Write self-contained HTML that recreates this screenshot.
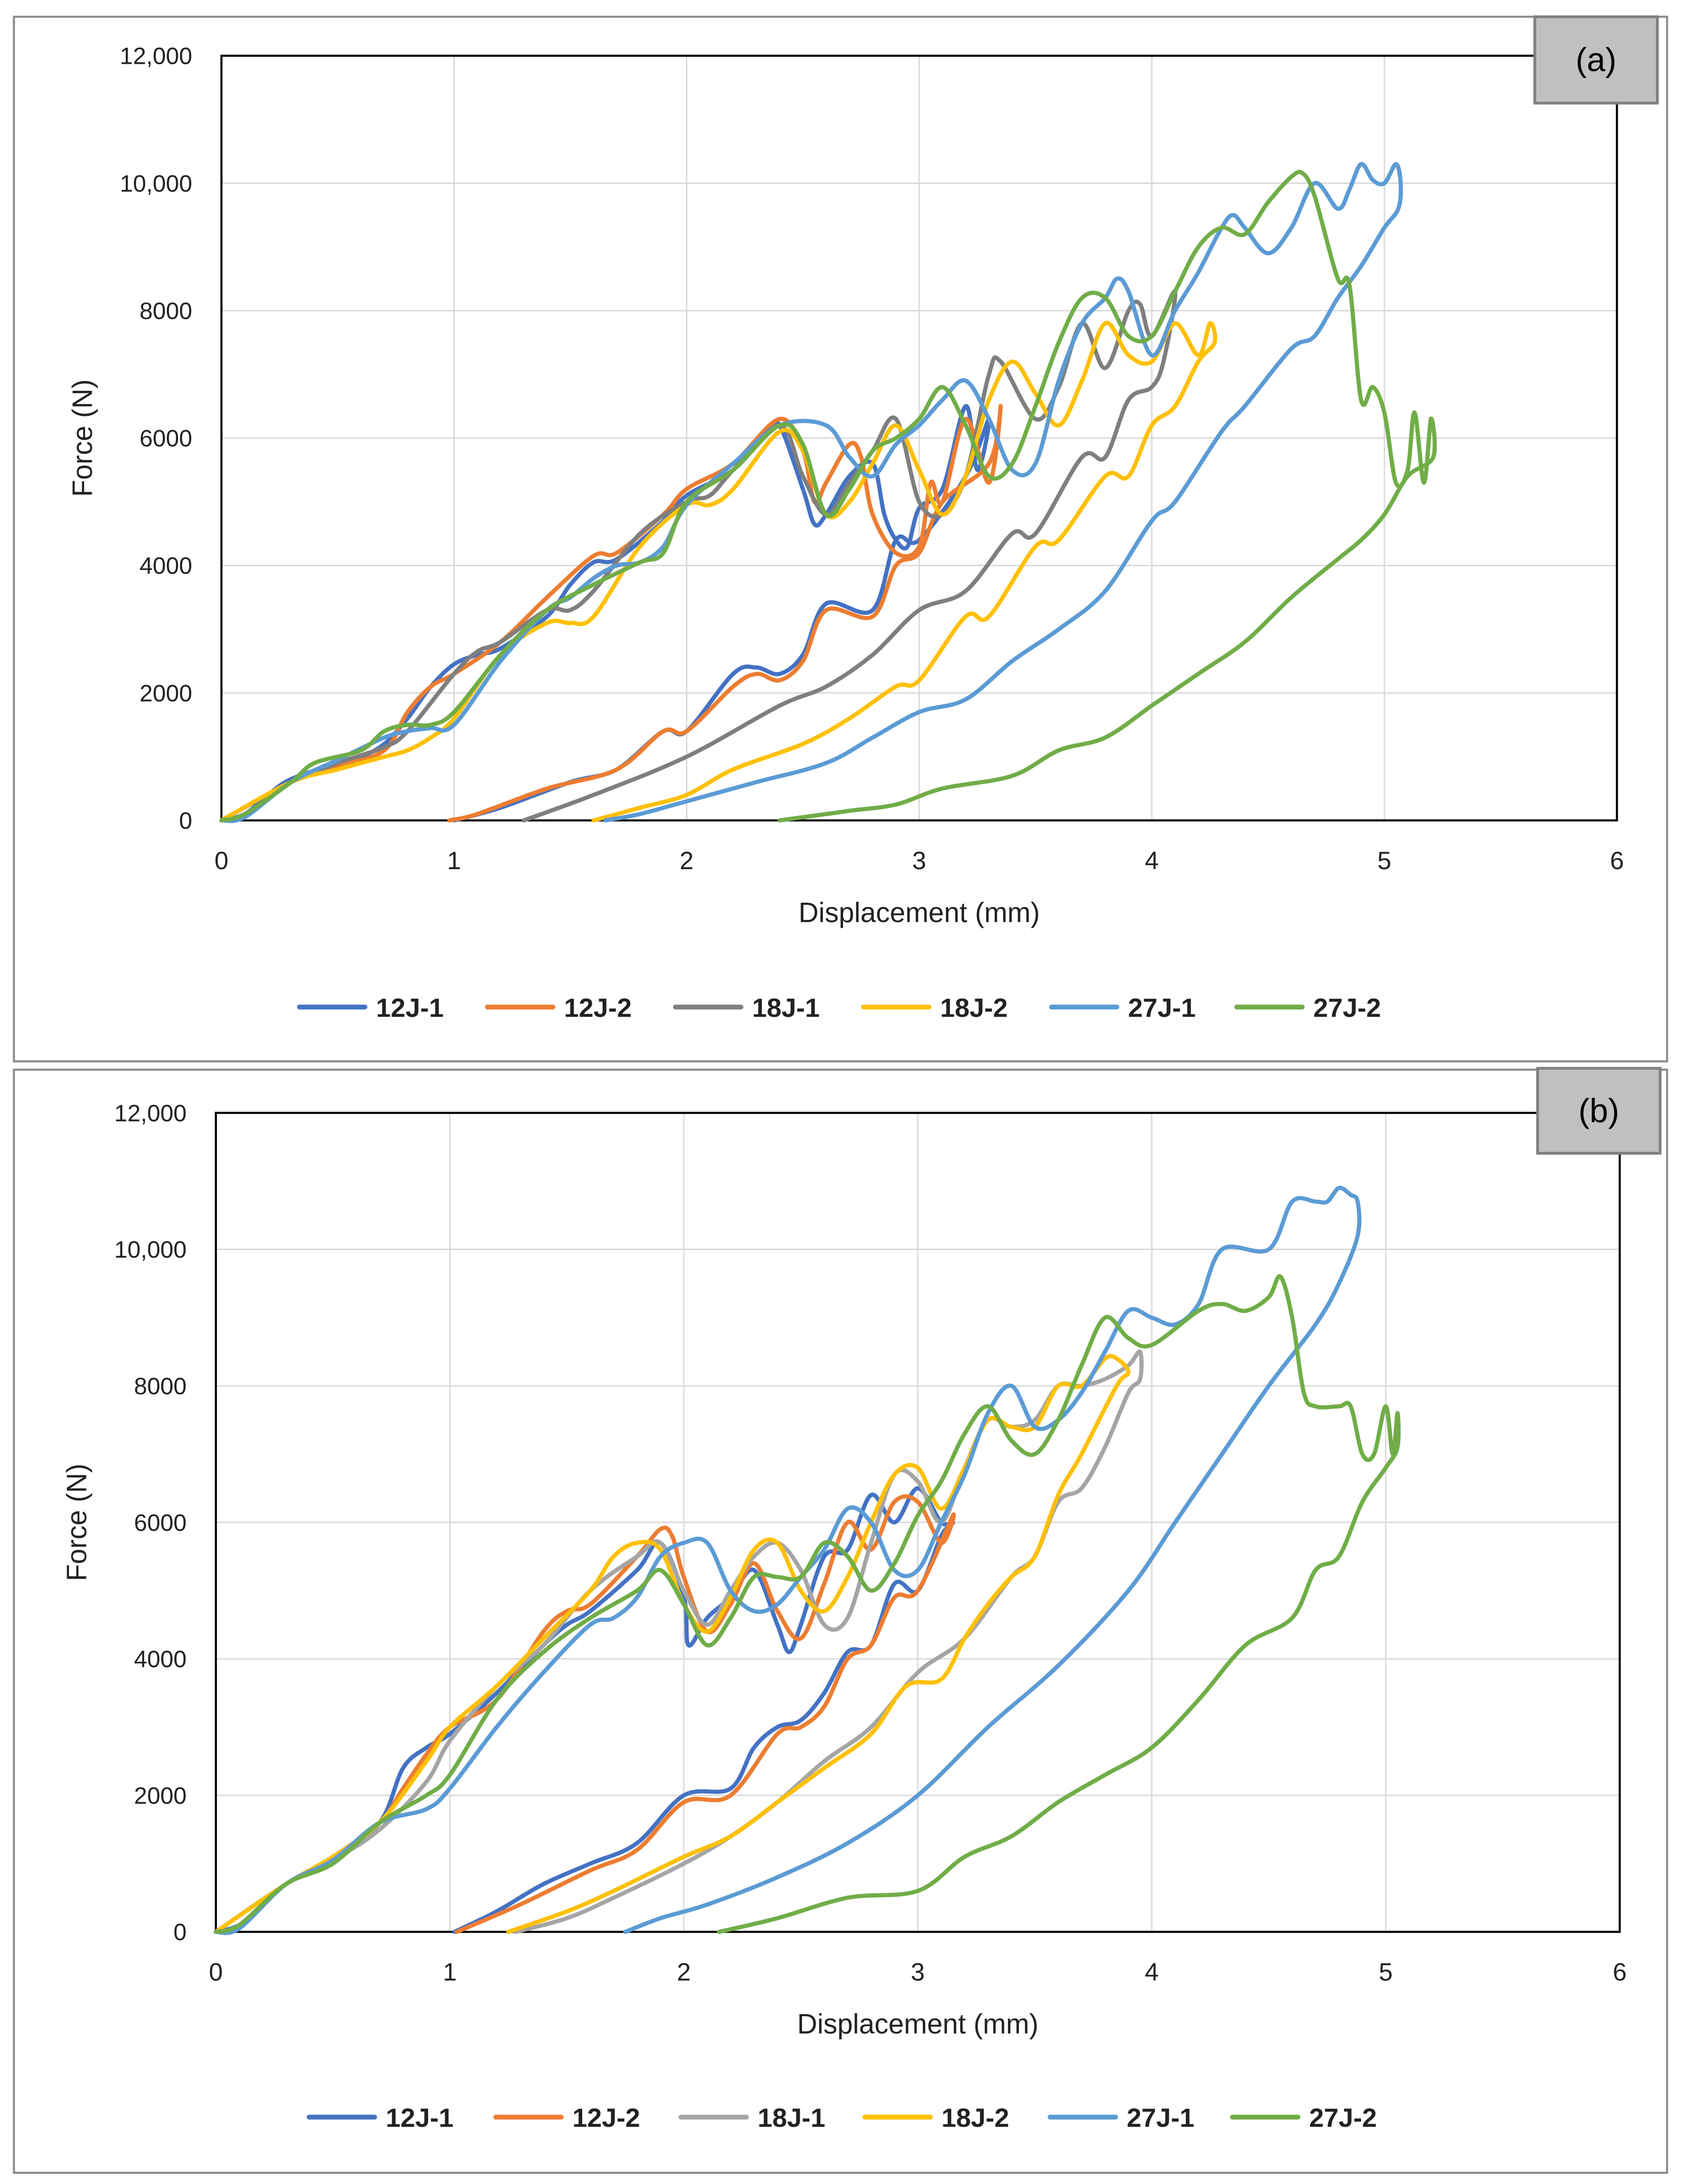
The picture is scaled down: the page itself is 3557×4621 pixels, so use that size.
<!DOCTYPE html>
<html><head><meta charset="utf-8">
<style>
html,body{margin:0;padding:0;background:#fff;}
svg{display:block;}
text{font-family:"Liberation Sans",sans-serif;}
</style></head>
<body>
<svg id="fig" width="3557" height="4621" viewBox="0 0 1207 1568" xmlns="http://www.w3.org/2000/svg">
<rect x="0" y="0" width="1207" height="1568" fill="#fff"/>
</svg>
<script>
// ---------- data (mm, N) ----------
const seriesNames = ["12J-1","12J-2","18J-1","18J-2","27J-1","27J-2"];
const yTicks = [0,2000,4000,6000,8000,10000,12000];
const yTickLabels = ["0","2000","4000","6000","8000","10,000","12,000"];
const xTicks = [0,1,2,3,4,5,6];

// Panel (a)
const a12J1x=[0,0.1,0.2,0.3,0.5,0.6,0.7,0.8,0.9,1.0,1.1,1.2,1.4,1.5,1.6,1.7,1.9,2.0,2.2,2.35,2.4,2.5,2.55,2.6,2.7,2.8,2.85,2.9,2.95,3.0,3.1,3.2,3.25,3.3,3.2,3.0,2.9,2.8,2.6,2.5,2.4,2.3,2.2,2.0,1.9,1.7,1.5,1.2,1.0];
const a12J1y=[0,100,400,650,900,1000,1200,1600,2100,2450,2600,2700,3200,3700,4050,4100,4700,5100,5500,6100,6200,5200,4650,4800,5400,5600,4800,4400,4300,4900,5200,6500,5500,6300,5400,4400,4400,3300,3400,2600,2300,2400,2300,1400,1400,800,600,200,0];
const a12J2x=[0,0.3,0.5,0.7,0.8,0.9,1.0,1.2,1.4,1.6,1.7,1.9,2.0,2.2,2.4,2.5,2.55,2.6,2.7,2.75,2.8,2.9,3.0,3.05,3.1,3.2,3.3,3.35,3.3,3.1,3.0,2.9,2.8,2.6,2.5,2.4,2.3,2.2,2.0,1.9,1.7,1.4,1.1,0.98];
const a12J2y=[0,600,850,1100,1700,2100,2300,2800,3500,4150,4200,4800,5200,5600,6300,5800,5000,5300,5900,5700,4800,4200,4300,5300,5000,6300,5300,6500,5600,5000,4200,4000,3200,3300,2500,2200,2300,2100,1400,1400,800,500,100,0];
const a18J1x=[0,0.3,0.5,0.7,0.8,1.0,1.1,1.2,1.4,1.5,1.6,1.8,2.0,2.1,2.2,2.4,2.5,2.6,2.7,2.8,2.9,3.0,3.1,3.2,3.3,3.35,3.5,3.6,3.7,3.8,3.9,3.95,4.0,4.1,4.05,4.0,3.9,3.8,3.7,3.5,3.4,3.2,3.0,2.8,2.6,2.4,2.0,1.6,1.3];
const a18J1y=[0,600,900,1150,1400,2300,2650,2800,3300,3300,3600,4500,5000,5100,5500,6200,5400,4800,5300,5800,6300,5000,4800,5400,7000,7200,6300,6800,7800,7100,8000,8100,7600,8300,7200,6800,6600,5700,5700,4500,4500,3600,3300,2600,2100,1800,1000,400,0];
const a18J2x=[0,0.3,0.5,0.7,0.8,0.9,1.0,1.2,1.4,1.5,1.6,1.8,2.0,2.1,2.2,2.4,2.5,2.6,2.7,2.8,2.9,3.0,3.1,3.2,3.3,3.4,3.5,3.6,3.7,3.8,3.9,4.0,4.1,4.2,4.25,4.27,4.2,4.1,4.0,3.9,3.8,3.6,3.5,3.3,3.2,3.0,2.9,2.7,2.5,2.2,2.0,1.8,1.6];
const a18J2y=[0,600,800,1000,1100,1300,1600,2600,3100,3100,3200,4300,4950,4950,5200,6100,5800,4800,5000,5600,6200,5500,4800,5400,6600,7200,6700,6200,6900,7800,7300,7200,7800,7300,7800,7500,7200,6500,6200,5400,5400,4400,4300,3200,3200,2200,2100,1600,1200,800,400,200,0];
const a27J1x=[0,0.1,0.3,0.5,0.7,0.8,0.9,1.0,1.2,1.4,1.5,1.6,1.7,1.8,1.9,2.0,2.2,2.4,2.6,2.7,2.8,2.9,3.0,3.1,3.2,3.3,3.4,3.5,3.6,3.7,3.8,3.85,3.9,4.0,4.1,4.2,4.3,4.35,4.4,4.5,4.6,4.7,4.8,4.85,4.9,4.95,5.0,5.05,5.07,5.06,5.0,4.9,4.8,4.7,4.6,4.4,4.3,4.1,4.0,3.8,3.6,3.4,3.2,3.0,2.8,2.6,2.3,2.0,1.8,1.65];
const a27J1y=[0,50,600,950,1300,1400,1450,1500,2500,3300,3500,3800,4000,4050,4300,4950,5600,6200,6200,5700,5400,5900,6200,6600,6900,6300,5500,5600,6900,7800,8200,8500,8300,7300,8000,8600,9300,9500,9300,8900,9300,10000,9600,9900,10300,10050,10000,10300,10000,9600,9300,8700,8200,7600,7400,6500,6100,5000,4700,3600,3000,2500,1900,1700,1300,900,600,300,100,0];
const a27J2x=[0,0.1,0.3,0.4,0.6,0.7,0.8,0.9,1.0,1.2,1.4,1.6,1.8,1.9,2.0,2.2,2.4,2.5,2.6,2.7,2.8,2.9,3.0,3.1,3.2,3.3,3.4,3.5,3.6,3.7,3.8,3.9,4.0,4.1,4.2,4.3,4.4,4.5,4.6,4.65,4.7,4.8,4.85,4.9,4.95,5.0,5.05,5.1,5.13,5.17,5.2,5.21,5.1,5.0,4.9,4.8,4.6,4.4,4.2,4.0,3.8,3.6,3.4,3.1,2.9,2.7,2.5,2.4];
const a27J2y=[0,100,600,900,1100,1400,1500,1500,1700,2600,3300,3700,4050,4200,5000,5500,6200,5900,4800,5200,5800,6000,6300,6800,6200,5400,5600,6500,7500,8200,8200,7600,7600,8300,9000,9300,9200,9700,10100,10150,9800,8500,8400,6600,6800,6400,5300,5500,6400,5300,6300,5700,5400,4800,4400,4100,3500,2800,2300,1800,1300,1100,700,500,250,150,50,0];

// Panel (b)
const b12J1x=[0,0.1,0.2,0.3,0.5,0.7,0.8,0.9,1.0,1.2,1.4,1.5,1.6,1.8,1.9,2.0,2.02,2.1,2.2,2.3,2.4,2.45,2.5,2.6,2.7,2.8,2.9,3.0,3.1,3.15,3.1,3.0,2.9,2.8,2.7,2.6,2.5,2.4,2.3,2.2,2.0,1.8,1.6,1.4,1.2,1.02];
const b12J1y=[0,100,400,700,1100,1600,2400,2700,2900,3500,4200,4500,4700,5300,5700,4900,4200,4600,4900,5300,4500,4100,4500,5500,5600,6400,6000,6500,6000,6000,5800,5000,5100,4200,4100,3500,3100,3000,2700,2100,2000,1300,1000,700,300,0];
const b12J2x=[0,0.3,0.5,0.7,0.8,0.9,1.0,1.2,1.4,1.5,1.6,1.8,1.9,1.95,2.0,2.1,2.2,2.3,2.4,2.5,2.6,2.7,2.8,2.9,3.0,3.1,3.15,3.0,2.9,2.8,2.7,2.6,2.5,2.4,2.2,2.0,1.8,1.6,1.3,1.03];
const b12J2y=[0,700,1100,1600,2100,2600,3000,3400,4400,4700,4800,5500,5900,5800,5200,4400,4800,5400,4700,4300,5100,6000,5600,6300,6300,5700,6100,5000,4900,4200,4000,3300,3000,2900,2000,1900,1200,900,400,0];
const b18J1x=[0,0.3,0.5,0.7,0.9,1.0,1.2,1.4,1.6,1.8,1.9,2.0,2.1,2.2,2.3,2.4,2.5,2.6,2.7,2.8,2.9,3.0,3.1,3.2,3.3,3.4,3.5,3.6,3.7,3.8,3.9,3.95,3.95,3.9,3.8,3.7,3.6,3.5,3.4,3.2,3.0,2.8,2.6,2.4,2.2,2.0,1.7,1.5,1.28];
const b18J1y=[0,700,1050,1500,2200,2800,3600,4200,5000,5500,5700,5000,4500,5000,5500,5700,5300,4500,4600,5700,6700,6600,6000,6800,7500,7400,7500,8000,8000,8100,8300,8500,8100,7900,7100,6500,6300,5500,5200,4300,3800,3000,2500,1900,1400,1000,500,200,0];
const b18J2x=[0,0.3,0.5,0.7,0.9,1.0,1.2,1.4,1.6,1.7,1.8,1.9,2.0,2.1,2.2,2.3,2.4,2.5,2.6,2.7,2.8,2.9,3.0,3.1,3.2,3.3,3.4,3.5,3.6,3.7,3.8,3.85,3.9,3.85,3.7,3.6,3.5,3.4,3.3,3.2,3.1,2.95,2.8,2.6,2.4,2.2,2.0,1.7,1.5,1.25];
const b18J2y=[0,700,1100,1600,2500,3000,3600,4300,5000,5500,5700,5600,4800,4400,4900,5600,5700,5000,4700,5200,6000,6700,6800,6200,6800,7500,7400,7400,8000,8000,8400,8400,8200,8000,7000,6400,5500,5200,4800,4300,3700,3600,2900,2400,1900,1400,1100,600,300,0];
const b27J1x=[0,0.1,0.3,0.5,0.7,0.9,1.0,1.2,1.4,1.6,1.7,1.8,1.9,2.0,2.1,2.2,2.3,2.4,2.5,2.6,2.7,2.8,2.9,3.0,3.1,3.2,3.3,3.4,3.5,3.6,3.7,3.8,3.9,4.0,4.1,4.2,4.3,4.5,4.6,4.7,4.75,4.8,4.85,4.88,4.88,4.8,4.7,4.5,4.3,4.1,3.9,3.6,3.3,3.0,2.7,2.4,2.1,1.9,1.75];
const b27J1y=[0,50,700,1050,1600,1800,2100,3000,3800,4500,4600,4900,5500,5700,5700,5000,4700,4800,5200,5600,6200,6000,5300,5300,6000,6700,7600,8000,7400,7500,7900,8500,9100,9000,8900,9200,10000,10000,10700,10700,10700,10900,10800,10700,10200,9500,8900,8000,7000,6000,5000,3900,3000,2000,1300,800,400,200,0];
const b27J2x=[0,0.1,0.3,0.5,0.7,0.9,1.0,1.2,1.4,1.6,1.8,1.9,2.0,2.1,2.2,2.3,2.4,2.5,2.6,2.7,2.8,2.9,3.0,3.1,3.2,3.3,3.4,3.5,3.6,3.7,3.8,3.9,4.0,4.2,4.3,4.4,4.5,4.55,4.6,4.65,4.7,4.8,4.85,4.9,4.95,5.0,5.03,5.05,5.05,5.0,4.9,4.8,4.7,4.6,4.4,4.2,4.0,3.8,3.6,3.4,3.2,3.0,2.7,2.4,2.15];
const b27J2y=[0,100,700,1000,1600,2000,2300,3400,4100,4600,5000,5300,4800,4200,4600,5200,5200,5200,5700,5500,5000,5400,6100,6600,7300,7700,7200,7000,7500,8300,9000,8700,8600,9100,9200,9100,9300,9600,9000,7900,7700,7700,7700,7000,7000,7700,7000,7600,7100,6800,6300,5500,5300,4600,4200,3400,2700,2300,1900,1400,1100,600,500,200,0];

const panelA = {id:"a", colors:["#4472C4","#ED7D31","#7F7F7F","#FFC000","#5B9BD5","#70AD47"],
  xs:[a12J1x,a12J2x,a18J1x,a18J2x,a27J1x,a27J2x], ys:[a12J1y,a12J2y,a18J1y,a18J2y,a27J1y,a27J2y]};
const panelB = {id:"b", colors:["#4472C4","#ED7D31","#A5A5A5","#FFC000","#5B9BD5","#70AD47"],
  xs:[b12J1x,b12J2x,b18J1x,b18J2x,b27J1x,b27J2x], ys:[b12J1y,b12J2y,b18J1y,b18J2y,b27J1y,b27J2y]};

// ---------- layout ----------
const layA = {frame:[10,12,1187,750], L:159,R:1161,T:40,B:589, box:[1102,12,88,62], xlabY:662, ylabX:66, legY:723,
  legX:[215,350,485,620,755,888]};
const layB = {frame:[10,768,1187,792], L:155,R:1163,T:799,B:1387, box:[1104,767,88,61], xlabY:1460, ylabX:62, legY:1520,
  legX:[222,356,489,621,754,885]};

const NS="http://www.w3.org/2000/svg";
const svg=document.getElementById("fig");
function mk(tag,attrs,parent){const e=document.createElementNS(NS,tag);for(const k in attrs)e.setAttribute(k,attrs[k]);(parent||svg).appendChild(e);return e;}

function smoothPath(p){
  let d="M"+p[0][0].toFixed(1)+","+p[0][1].toFixed(1);
  for(let i=0;i<p.length-1;i++){
    const p0=p[i-1]||p[i],p1=p[i],p2=p[i+1],p3=p[i+2]||p2;
    const c1x=p1[0]+(p2[0]-p0[0])/6,c1y=p1[1]+(p2[1]-p0[1])/6;
    const c2x=p2[0]-(p3[0]-p1[0])/6,c2y=p2[1]-(p3[1]-p1[1])/6;
    d+=" C"+c1x.toFixed(1)+","+c1y.toFixed(1)+" "+c2x.toFixed(1)+","+c2y.toFixed(1)+" "+p2[0].toFixed(1)+","+p2[1].toFixed(1);
  }
  return d;
}

function drawPanel(P,Ly){
  const g=mk("g",{});
  
  
  const xS=v=>Ly.L+(Ly.R-Ly.L)*v/6;
  const yS=v=>Ly.B-(Ly.B-Ly.T)*v/12000;
  const fr=mk("rect",{x:Ly.frame[0],y:Ly.frame[1],width:Ly.frame[2],height:Ly.frame[3],fill:"#fff",stroke:"#8c8c8c","stroke-width":1.5},g);
  
  
  yTicks.forEach((t,i)=>{
    const l=mk("line",{x1:Ly.L,x2:Ly.R,y1:yS(t),y2:yS(t),stroke:"#d9d9d9","stroke-width":1},g);
    
    
    const tx=mk("text",{x:Ly.L-21,y:yS(t)+6,"text-anchor":"end","font-size":17,fill:"#222"},g);
    
    
    tx.textContent=yTickLabels[i];
  });
  xTicks.forEach(t=>{
    const l=mk("line",{x1:xS(t),x2:xS(t),y1:Ly.T,y2:Ly.B,stroke:"#d9d9d9","stroke-width":1},g);
    
    
    const tx=mk("text",{x:xS(t),y:Ly.B+35,"text-anchor":"middle","font-size":18,fill:"#222"},g);
    
    
    tx.textContent=String(t);
  });
  const pa=mk("rect",{x:Ly.L,y:Ly.T,width:Ly.R-Ly.L,height:Ly.B-Ly.T,fill:"none",stroke:"#000","stroke-width":1.5},g);
  
  
  P.xs.forEach((xs,i)=>{
    const ys=P.ys[i];
    const pts=xs.map((x,j)=>[xS(x),yS(ys[j])]);
    const pl=mk("path",{d:smoothPath(pts),fill:"none",stroke:P.colors[i],"stroke-width":3,"stroke-linejoin":"round","stroke-linecap":"round"},g);
    
    
  });
  const xt=mk("text",{x:(Ly.L+Ly.R)/2,y:Ly.xlabY,"text-anchor":"middle","font-size":20,fill:"#222"},g);
  
  
  xt.textContent="Displacement (mm)";
  const yt=mk("text",{x:Ly.ylabX,y:(Ly.T+Ly.B)/2,"text-anchor":"middle","font-size":20,fill:"#222",transform:`rotate(-90 ${Ly.ylabX} ${(Ly.T+Ly.B)/2})`},g);
  
  
  yt.textContent="Force (N)";
  const bx=mk("rect",{x:Ly.box[0],y:Ly.box[1],width:Ly.box[2],height:Ly.box[3],fill:"#c0c0c0",stroke:"#808080","stroke-width":2},g);
  
  
  const bt=mk("text",{x:Ly.box[0]+Ly.box[2]/2,y:Ly.box[1]+Ly.box[3]/2+8,"text-anchor":"middle","font-size":24,fill:"#000","font-family":"Liberation Serif, serif"},g);
  
  
  bt.textContent="("+P.id+")";
  seriesNames.forEach((n,i)=>{
    const lx=Ly.legX[i];
    const ll=mk("line",{x1:lx,x2:lx+47,y1:Ly.legY,y2:Ly.legY,stroke:P.colors[i],"stroke-width":3.5,"stroke-linecap":"round"},g);
    
    
    const lt=mk("text",{x:lx+55,y:Ly.legY+7,"font-size":19,"font-weight":"bold",fill:"#222"},g);
    
    
    lt.textContent=n;
  });
}
drawPanel(panelA,layA);
drawPanel(panelB,layB);
</script>
</body></html>
